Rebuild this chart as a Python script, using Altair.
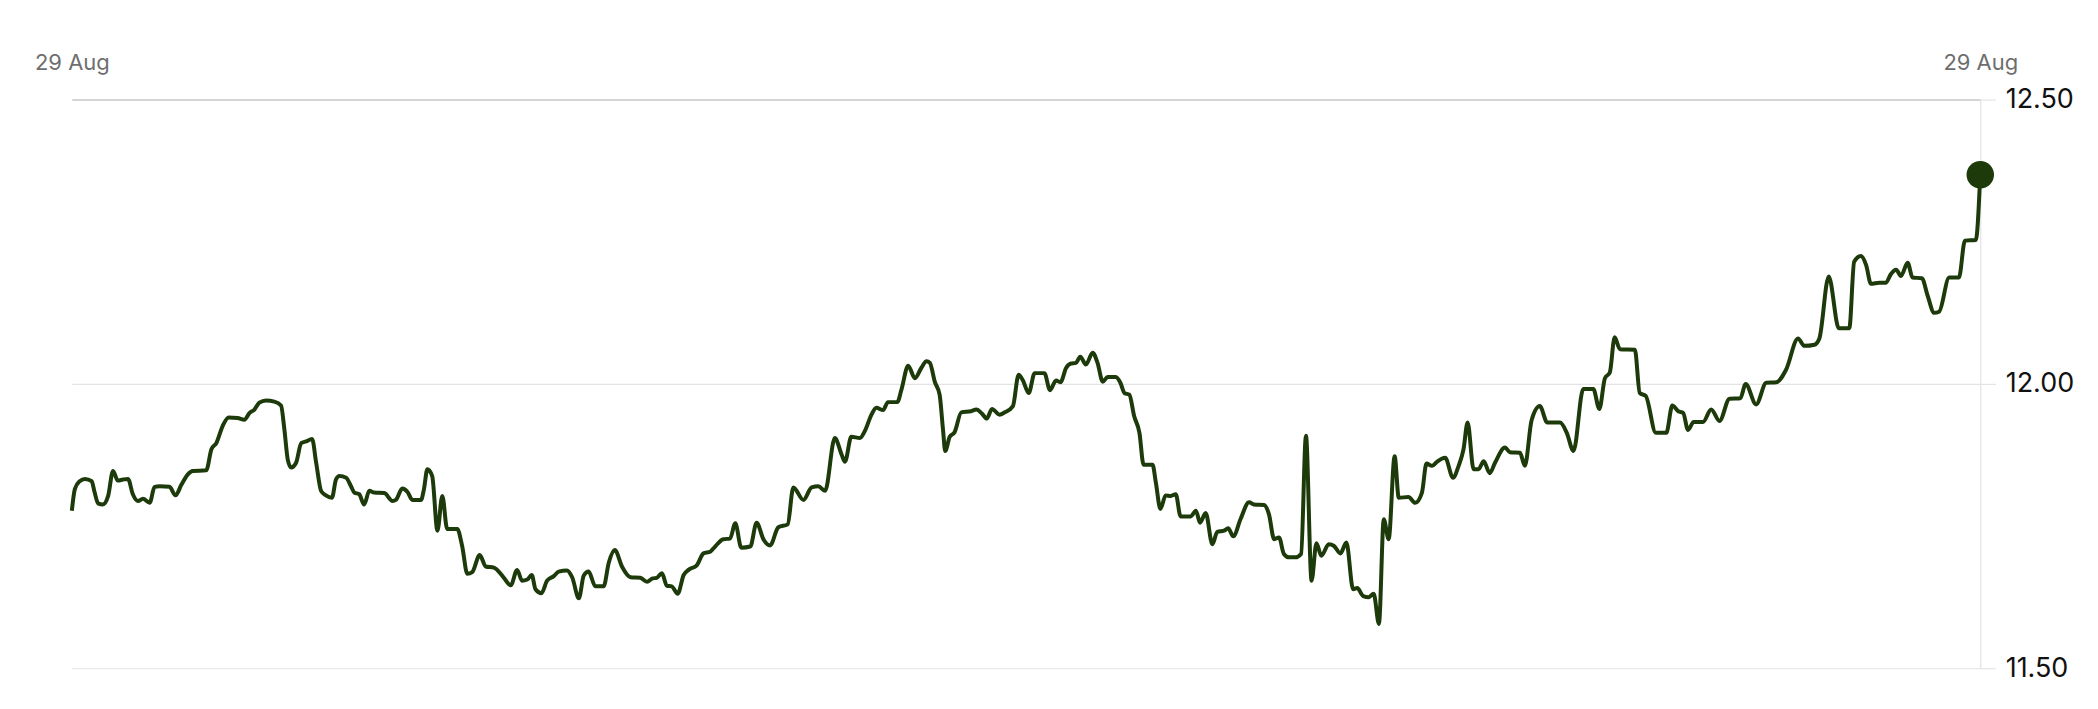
import altair as alt
import pandas as pd

# minutes after 08:00 on 29 Aug
minutes = [
    0, 0.8, 2.1, 3.5, 5.3, 6.1, 7.0, 8.3, 9.7, 11.0, 12.3, 13.7, 15.0, 16.3, 17.7, 19.0,
    20.8, 22.1, 23.5, 26.1, 27.7, 29.3, 31.0, 32.3, 35.9, 37.3, 38.6, 40.3, 41.9, 44.3,
    46.1, 47.5, 48.8, 50.1, 51.9, 54.1, 55.9, 56.8, 57.7, 58.6, 59.9, 61.3, 62.6, 64.2,
    65.3, 66.6, 67.9, 69.5, 70.6, 71.5, 73.3, 74.6, 75.5, 76.8, 78.1, 79.5, 80.8, 83.5,
    85.7, 86.6, 88.3, 89.7, 91.0, 93.3, 94.1, 95.0, 96.3, 97.7, 99.0, 100.3, 103.0,
    104.3, 105.7, 107.0, 109.0, 110.6, 112.8, 115.0, 117.3, 119.0, 120.3, 121.7, 122.9,
    123.9, 125.5, 127.0, 128.8, 130.1, 132.3, 133.7, 135.5, 136.8, 138.1, 139.9, 142.1,
    143.5, 145.1, 147.0, 149.3, 151.9, 153.7, 155.2, 156.3, 157.7, 159.0, 160.3, 161.9,
    163.5, 164.8, 167.0, 168.8, 170.6, 171.9, 174.1, 175.9, 177.3, 178.9, 181.3, 183.0,
    184.8, 186.6, 188.8, 191.3, 192.8, 195.5, 197.7, 199.5, 201.3, 203.9, 205.7, 206.6,
    208.3, 210.6, 211.9, 213.7, 215.0, 216.8, 218.1, 220.6, 221.7, 223.5, 225.3, 227.0,
    228.4, 229.3, 230.6, 231.9, 232.8, 233.4, 234.6, 235.9, 237.7, 240.3, 241.7, 243.2,
    244.5, 245.9, 247.9, 249.3, 251.5, 253.0, 254.1, 255.7, 257.3, 259.9, 261.4, 263.0,
    264.2, 265.7, 267.0, 268.3, 269.5, 271.0, 272.8, 274.1, 275.5, 276.8, 279.0, 280.2,
    281.3, 282.6, 283.9, 285.3, 286.4, 288.8, 289.7, 290.9, 292.3, 293.7, 295.0, 296.3,
    299.0, 300.4, 301.5, 303.0, 304.8, 306.1, 307.9, 309.0, 310.4, 312.3, 314.6, 315.9,
    318.6, 319.9, 321.3, 322.6, 323.9, 325.3, 327.0, 328.5, 329.8, 331.3, 332.6, 333.9,
    335.9, 337.3, 339.0, 340.6, 342.4, 343.5, 345.1, 346.6, 347.9, 349.3, 350.6, 351.9,
    353.5, 354.6, 357.2, 359.0, 360.8, 362.0, 363.5, 364.8, 367.0, 369.1, 370.6, 371.9,
    373.0, 374.6, 375.9, 377.3, 378.9, 380.3, 383.0, 384.3, 387.0, 388.3, 390.1, 392.3,
    394.3, 397.7, 399.5, 401.3, 403.9, 406.6, 408.2, 409.7, 411.0, 412.3, 413.7, 417.7,
    419.0, 420.6, 423.3, 426.1, 427.7, 429.3, 430.6, 431.9, 433.4, 435.9, 438.1, 440.3,
    443.0, 445.9, 447.3, 450.1, 452.8, 455.5, 458.1, 461.3, 463.0, 465.7, 467.0, 469.5,
    472.2, 475.0, 476.3, 478.1, 479.5, 480.8, 483.0, 484.8, 486.1, 487.5, 488.8, 490.6,
    491.9, 494.4, 495.9, 497.7, 499.0, 501.7, 504.3, 505.9, 508.8, 510.0,
]

prices = [
    11.777, 11.815, 11.829, 11.833, 11.829, 11.809, 11.790, 11.788, 11.803, 11.847, 11.830,
    11.832, 11.833, 11.806, 11.794, 11.798, 11.791, 11.819, 11.820, 11.819, 11.804, 11.823,
    11.841, 11.847, 11.848, 11.885, 11.896, 11.926, 11.941, 11.940, 11.937, 11.949, 11.955,
    11.967, 11.971, 11.969, 11.962, 11.920, 11.867, 11.853, 11.861, 11.896, 11.899, 11.903,
    11.861, 11.812, 11.804, 11.800, 11.832, 11.838, 11.835, 11.820, 11.809, 11.806, 11.788,
    11.812, 11.809, 11.808, 11.794, 11.796, 11.816, 11.810, 11.796, 11.796, 11.815, 11.850,
    11.838, 11.742, 11.803, 11.745, 11.745,
    11.715, 11.666, 11.669, 11.699, 11.679, 11.677, 11.663, 11.646, 11.673, 11.654, 11.656,
    11.664, 11.639, 11.632, 11.654, 11.662, 11.670, 11.672, 11.660, 11.623, 11.663, 11.670,
    11.644, 11.644, 11.686, 11.708, 11.679, 11.660, 11.659, 11.652, 11.658, 11.659, 11.667,
    11.645, 11.644, 11.631, 11.664, 11.673, 11.681, 11.702, 11.705, 11.714, 11.727, 11.728,
    11.755, 11.712, 11.714, 11.756, 11.727, 11.716, 11.748, 11.753, 11.818, 11.796, 11.818,
    11.820, 11.812, 11.905, 11.876,
    11.863, 11.907, 11.905, 11.917, 11.946, 11.958, 11.954, 11.968, 11.968, 11.990, 12.032,
    12.010, 12.028, 12.040, 12.037, 12.004, 11.981, 11.920, 11.882, 11.907, 11.915, 11.950,
    11.952, 11.955, 11.948, 11.939, 11.956, 11.946, 11.950, 11.961, 12.016, 12.007, 11.984,
    12.019, 12.019, 11.989, 12.006, 12.003, 12.028, 12.036, 12.037, 12.048, 12.034, 12.055,
    12.037, 12.004, 12.012, 12.012, 12.002, 11.984, 11.981, 11.943, 11.914, 11.858, 11.858,
    11.826, 11.780, 11.804, 11.803, 11.806, 11.767, 11.767, 11.777, 11.756, 11.773, 11.718,
    11.740, 11.742, 11.746, 11.732,
    11.762, 11.792, 11.788, 11.787, 11.771, 11.727, 11.730, 11.701, 11.695, 11.695, 11.701,
    11.909, 11.654, 11.720, 11.698, 11.718, 11.715, 11.702, 11.721, 11.639, 11.641, 11.627,
    11.625, 11.631, 11.578, 11.762, 11.727, 11.873, 11.800, 11.801, 11.791, 11.809, 11.860,
    11.856, 11.863, 11.870, 11.835, 11.856, 11.885, 11.932, 11.850, 11.850, 11.864, 11.843,
    11.861, 11.888, 11.880, 11.879, 11.856, 11.936, 11.961, 11.932, 11.932, 11.914, 11.882,
    11.991, 11.991, 11.956, 12.010, 12.020, 12.082, 12.061,
    12.060, 11.984, 11.979, 11.914, 11.914, 11.962, 11.952, 11.949, 11.919, 11.933, 11.933,
    11.955, 11.935, 11.974, 11.975, 12.000, 11.964, 12.002, 12.003, 12.025, 12.080, 12.067,
    12.069, 12.080, 12.189, 12.098, 12.098, 12.215, 12.225, 12.209, 12.176, 12.178, 12.178,
    12.193, 12.201, 12.190, 12.213, 12.187, 12.186, 12.156, 12.125, 12.127, 12.187, 12.187,
    12.252, 12.253, 12.368,
]

y_ticks = [11.5, 12.0, 12.5]

base = pd.Timestamp("2024-08-29 08:00:00")
times = [(base + pd.to_timedelta(m, unit="m")).strftime("%Y-%m-%dT%H:%M:%S") for m in minutes]
df = pd.DataFrame({"time": times, "price": prices})
last = df.tail(1)

start = alt.DateTime(year=2024, month=8, date=29, hours=8, minutes=0)
end = alt.DateTime(year=2024, month=8, date=29, hours=16, minutes=30)

color = "#1d3a0b"
grid = "#e3e3e3"
font = "Inter"

x_enc = alt.X(
    "time:T",
    scale=alt.Scale(domain=[start, end], nice=False),
    axis=alt.Axis(
        orient="top", values=[start, end], format="%d %b", title=None,
        ticks=False, grid=False, domain=True, domainColor="#cccccc", domainWidth=1.5,
        labelFlush=False, labelOverlap=False, labelBound=False,
        labelFont=font, labelFontSize=22, labelColor="#6e6e6e", labelPadding=25,
    ),
)
y_enc = alt.Y(
    "price:Q",
    scale=alt.Scale(domain=[11.5, 12.5], nice=False, zero=False),
    axis=alt.Axis(
        orient="right", values=y_ticks, format=".2f", title=None,
        grid=True, gridColor=grid, gridWidth=1.2, tickColor=grid, tickSize=15, tickWidth=1.2,
        domain=True, domainColor=grid, domainWidth=1.2,
        labelFont=font, labelFontSize=27, labelColor="#111111", labelPadding=10,
    ),
)

line = alt.Chart(df).mark_line(color=color, strokeWidth=4, interpolate="monotone").encode(x=x_enc, y=y_enc)
dot = alt.Chart(last).mark_point(filled=True, color=color, opacity=1, size=760).encode(x=x_enc, y=y_enc)

chart = (
    alt.layer(line, dot)
    .properties(
        width=1913, height=570,
        autosize=alt.AutoSizeParams(type="none"),
        padding={"left": 64, "top": 91, "right": 110, "bottom": 30},
    )
    .configure_view(strokeWidth=0)
)

chart.save("out.html", embed_options={"renderer": "svg", "actions": False})
